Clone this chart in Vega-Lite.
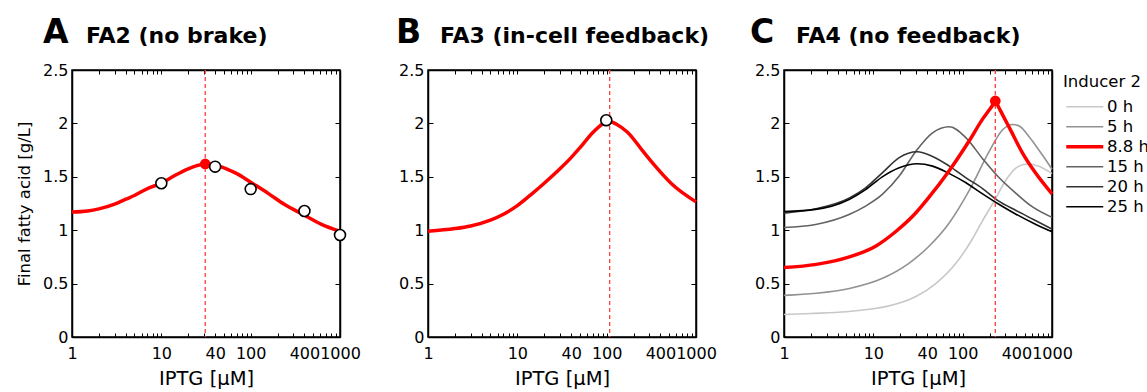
{
  "$schema": "https://vega.github.io/schema/vega-lite/v6.json",
  "background": "white",
  "padding": {"left": 15, "top": 16, "right": 0, "bottom": 0},
  "spacing": 88,
  "bounds": "flush",
  "config": {
    "font": "DejaVu Sans",
    "view": {"stroke": "black", "strokeWidth": 1.5},
    "axis": {"domainColor": "black", "domainWidth": 1.5, "tickColor": "black", "tickWidth": 1, "labelColor": "black", "titleColor": "black", "labelFont": "DejaVu Sans", "titleFont": "DejaVu Sans", "labelFontSize": 16, "titleFontSize": 19.5, "titleFontWeight": "normal", "grid": false, "labelOverlap": false, "labelFlush": false},
    "legend": {"labelFont": "DejaVu Sans", "titleFont": "DejaVu Sans"}
  },
  "datasets": {
    "curveA": [
      {"x": 1, "y": 1.17}, {"x": 1.5, "y": 1.18}, {"x": 2, "y": 1.2}, {"x": 3, "y": 1.245}, {"x": 4, "y": 1.29}, {"x": 5, "y": 1.325}, {"x": 7, "y": 1.39}, {"x": 10, "y": 1.44}, {"x": 14, "y": 1.51}, {"x": 20, "y": 1.575}, {"x": 25, "y": 1.605}, {"x": 31, "y": 1.62}, {"x": 40, "y": 1.61}, {"x": 55, "y": 1.57}, {"x": 70, "y": 1.53}, {"x": 86, "y": 1.485}, {"x": 100, "y": 1.45}, {"x": 157, "y": 1.345}, {"x": 240, "y": 1.24}, {"x": 400, "y": 1.14}, {"x": 620, "y": 1.055}, {"x": 1000, "y": 0.99}
    ],
    "circlesA": [
      {"x": 10, "y": 1.44}, {"x": 40, "y": 1.595}, {"x": 100, "y": 1.385}, {"x": 400, "y": 1.18}, {"x": 1000, "y": 0.955}
    ],
    "peakA": [{"x": 31, "y": 1.62}],
    "curveB": [
      {"x": 1, "y": 0.99}, {"x": 2, "y": 1.015}, {"x": 3, "y": 1.04}, {"x": 5, "y": 1.095}, {"x": 7, "y": 1.15}, {"x": 10, "y": 1.23}, {"x": 15, "y": 1.35}, {"x": 20, "y": 1.44}, {"x": 30, "y": 1.575}, {"x": 40, "y": 1.68}, {"x": 50, "y": 1.77}, {"x": 70, "y": 1.915}, {"x": 90, "y": 1.995}, {"x": 105, "y": 2.02}, {"x": 130, "y": 1.99}, {"x": 170, "y": 1.92}, {"x": 260, "y": 1.73}, {"x": 350, "y": 1.6}, {"x": 540, "y": 1.43}, {"x": 1000, "y": 1.265}
    ],
    "circlesB": [{"x": 99, "y": 2.03}],
    "curvesC": [
      {"series": "0 h", "x": 1, "y": 0.21}, {"series": "0 h", "x": 2, "y": 0.22}, {"series": "0 h", "x": 5, "y": 0.237}, {"series": "0 h", "x": 10, "y": 0.265}, {"series": "0 h", "x": 13, "y": 0.28}, {"series": "0 h", "x": 20, "y": 0.32}, {"series": "0 h", "x": 30, "y": 0.38}, {"series": "0 h", "x": 50, "y": 0.5}, {"series": "0 h", "x": 84, "y": 0.69}, {"series": "0 h", "x": 129, "y": 0.92}, {"series": "0 h", "x": 167, "y": 1.09}, {"series": "0 h", "x": 232, "y": 1.29}, {"series": "0 h", "x": 290, "y": 1.44}, {"series": "0 h", "x": 333, "y": 1.515}, {"series": "0 h", "x": 400, "y": 1.585}, {"series": "0 h", "x": 480, "y": 1.615}, {"series": "0 h", "x": 560, "y": 1.62}, {"series": "0 h", "x": 700, "y": 1.6}, {"series": "0 h", "x": 1000, "y": 1.53},
      {"series": "5 h", "x": 1, "y": 0.39}, {"series": "5 h", "x": 2.3, "y": 0.41}, {"series": "5 h", "x": 5.4, "y": 0.455}, {"series": "5 h", "x": 12.7, "y": 0.55}, {"series": "5 h", "x": 25, "y": 0.69}, {"series": "5 h", "x": 42, "y": 0.85}, {"series": "5 h", "x": 71, "y": 1.07}, {"series": "5 h", "x": 119, "y": 1.375}, {"series": "5 h", "x": 199, "y": 1.74}, {"series": "5 h", "x": 280, "y": 1.94}, {"series": "5 h", "x": 363, "y": 1.99}, {"series": "5 h", "x": 430, "y": 1.975}, {"series": "5 h", "x": 560, "y": 1.87}, {"series": "5 h", "x": 700, "y": 1.76}, {"series": "5 h", "x": 850, "y": 1.66}, {"series": "5 h", "x": 1000, "y": 1.57},
      {"series": "15 h", "x": 1, "y": 1.025}, {"series": "15 h", "x": 2.26, "y": 1.054}, {"series": "15 h", "x": 5.35, "y": 1.148}, {"series": "15 h", "x": 8.2, "y": 1.226}, {"series": "15 h", "x": 12.6, "y": 1.335}, {"series": "15 h", "x": 19.5, "y": 1.507}, {"series": "15 h", "x": 30, "y": 1.74}, {"series": "15 h", "x": 46, "y": 1.912}, {"series": "15 h", "x": 71, "y": 1.968}, {"series": "15 h", "x": 109, "y": 1.865}, {"series": "15 h", "x": 167, "y": 1.67}, {"series": "15 h", "x": 250, "y": 1.5}, {"series": "15 h", "x": 395, "y": 1.345}, {"series": "15 h", "x": 600, "y": 1.22}, {"series": "15 h", "x": 1000, "y": 1.12},
      {"series": "20 h", "x": 1, "y": 1.16}, {"series": "20 h", "x": 2.26, "y": 1.2}, {"series": "20 h", "x": 5.35, "y": 1.3}, {"series": "20 h", "x": 8.2, "y": 1.397}, {"series": "20 h", "x": 12.6, "y": 1.537}, {"series": "20 h", "x": 19.5, "y": 1.68}, {"series": "20 h", "x": 31, "y": 1.734}, {"series": "20 h", "x": 46, "y": 1.69}, {"series": "20 h", "x": 71, "y": 1.6}, {"series": "20 h", "x": 109, "y": 1.49}, {"series": "20 h", "x": 167, "y": 1.39}, {"series": "20 h", "x": 246, "y": 1.28}, {"series": "20 h", "x": 395, "y": 1.185}, {"series": "20 h", "x": 620, "y": 1.1}, {"series": "20 h", "x": 1000, "y": 1.01},
      {"series": "25 h", "x": 1, "y": 1.175}, {"series": "25 h", "x": 2.26, "y": 1.195}, {"series": "25 h", "x": 5.35, "y": 1.288}, {"series": "25 h", "x": 8.2, "y": 1.38}, {"series": "25 h", "x": 12.6, "y": 1.5}, {"series": "25 h", "x": 19.5, "y": 1.585}, {"series": "25 h", "x": 31, "y": 1.622}, {"series": "25 h", "x": 46, "y": 1.6}, {"series": "25 h", "x": 71, "y": 1.53}, {"series": "25 h", "x": 109, "y": 1.444}, {"series": "25 h", "x": 167, "y": 1.34}, {"series": "25 h", "x": 246, "y": 1.25}, {"series": "25 h", "x": 395, "y": 1.15}, {"series": "25 h", "x": 620, "y": 1.065}, {"series": "25 h", "x": 1000, "y": 0.985}
    ],
    "redC": [
      {"series": "8.8 h", "x": 1, "y": 0.65}, {"series": "8.8 h", "x": 2.3, "y": 0.68}, {"series": "8.8 h", "x": 5.4, "y": 0.75}, {"series": "8.8 h", "x": 10.6, "y": 0.85}, {"series": "8.8 h", "x": 18, "y": 0.99}, {"series": "8.8 h", "x": 27.5, "y": 1.13}, {"series": "8.8 h", "x": 42, "y": 1.31}, {"series": "8.8 h", "x": 71, "y": 1.56}, {"series": "8.8 h", "x": 119, "y": 1.84}, {"series": "8.8 h", "x": 167, "y": 2.04}, {"series": "8.8 h", "x": 200, "y": 2.13}, {"series": "8.8 h", "x": 220, "y": 2.18}, {"series": "8.8 h", "x": 232, "y": 2.21}, {"series": "8.8 h", "x": 250, "y": 2.16}, {"series": "8.8 h", "x": 280, "y": 2.08}, {"series": "8.8 h", "x": 333, "y": 1.96}, {"series": "8.8 h", "x": 470, "y": 1.72}, {"series": "8.8 h", "x": 662, "y": 1.53}, {"series": "8.8 h", "x": 1000, "y": 1.34}
    ],
    "peakC": [{"x": 232, "y": 2.21}],
    "vlines": [{"panel": "A", "x": 31}, {"panel": "B", "x": 108}, {"panel": "C", "x": 232}],
    "labels": [{"panel": "A", "letter": "A", "name": "FA2 (no brake)"}, {"panel": "B", "letter": "B", "name": "FA3 (in-cell feedback)"}, {"panel": "C", "letter": "C", "name": "FA4 (no feedback)"}]
  },
  "hconcat": [
    {
      "width": 268, "height": 267,
      "resolve": {"axis": {"x": "independent", "y": "independent"}},
      "layer": [
        {
          "data": {"name": "curveA"},
          "mark": {"type": "line", "color": "#ff0000", "strokeWidth": 3.5, "interpolate": "monotone"},
          "encoding": {
            "x": {"field": "x", "type": "quantitative", "scale": {"type": "log", "domain": [1, 1000], "nice": false}, "axis": {"orient": "bottom", "values": [1,2,3,4,5,6,7,8,9,10,20,30,40,50,60,70,80,90,100,200,300,400,500,600,700,800,900,1000], "labelExpr": "indexof([1,10,40,100,400,1000], datum.value) >= 0 ? format(datum.value, 'd') : ''", "tickSize": -4, "labelPadding": 12, "title": "IPTG [μM]", "titlePadding": 8}},
            "y": {"field": "y", "type": "quantitative", "scale": {"domain": [0, 2.5], "nice": false, "zero": false}, "axis": {"orient": "left", "values": [0, 0.5, 1, 1.5, 2, 2.5], "format": "~g", "tickSize": -5, "labelPadding": 9, "title": "Final fatty acid [g/L]", "titleFontSize": 16.5, "titlePadding": 10}}
          }
        },
        {
          "data": {"name": "vlines"},
          "transform": [{"filter": "datum.panel === 'A'"}],
          "mark": {"type": "rule", "color": "#ff4040", "strokeDash": [4, 3], "strokeWidth": 1.3},
          "encoding": {
            "x": {"field": "x", "type": "quantitative", "scale": {"type": "log", "domain": [1, 1000], "nice": false}, "axis": {"orient": "top", "values": [1,2,3,4,5,6,7,8,9,10,20,30,40,50,60,70,80,90,100,200,300,400,500,600,700,800,900,1000], "labels": false, "tickSize": -4, "title": null}}
          }
        },
        {
          "data": {"name": "peakA"},
          "mark": {"type": "point", "shape": "circle", "filled": true, "color": "#ff0000", "size": 115, "opacity": 1},
          "encoding": {
            "x": {"field": "x", "type": "quantitative", "scale": {"type": "log", "domain": [1, 1000], "nice": false}, "axis": null},
            "y": {"field": "y", "type": "quantitative", "scale": {"domain": [0, 2.5], "nice": false, "zero": false}, "axis": null}
          }
        },
        {
          "data": {"name": "circlesA"},
          "mark": {"type": "point", "shape": "circle", "filled": true, "fill": "white", "stroke": "black", "strokeWidth": 1.6, "size": 120, "opacity": 1},
          "encoding": {
            "x": {"field": "x", "type": "quantitative", "scale": {"type": "log", "domain": [1, 1000], "nice": false}, "axis": null},
            "y": {"field": "y", "type": "quantitative", "scale": {"domain": [0, 2.5], "nice": false, "zero": false}, "axis": {"orient": "right", "values": [0, 0.5, 1, 1.5, 2, 2.5], "labels": false, "tickSize": -5, "title": null}}
          }
        },
        {
          "data": {"name": "labels"},
          "transform": [{"filter": "datum.panel === 'A'"}],
          "mark": {"type": "text", "font": "DejaVu Sans", "fontSize": 33, "fontWeight": "bold", "align": "left", "baseline": "alphabetic", "dx": -29, "dy": -27, "color": "black"},
          "encoding": {
            "x": {"datum": 1, "type": "quantitative", "scale": {"type": "log", "domain": [1, 1000], "nice": false}, "axis": null},
            "y": {"datum": 2.5, "type": "quantitative", "scale": {"domain": [0, 2.5], "nice": false, "zero": false}, "axis": null},
            "text": {"field": "letter"}
          }
        },
        {
          "data": {"name": "labels"},
          "transform": [{"filter": "datum.panel === 'A'"}],
          "mark": {"type": "text", "font": "DejaVu Sans", "fontSize": 22, "fontWeight": "bold", "align": "left", "baseline": "alphabetic", "dx": 14, "dy": -27, "color": "black"},
          "encoding": {
            "x": {"datum": 1, "type": "quantitative", "scale": {"type": "log", "domain": [1, 1000], "nice": false}, "axis": null},
            "y": {"datum": 2.5, "type": "quantitative", "scale": {"domain": [0, 2.5], "nice": false, "zero": false}, "axis": null},
            "text": {"field": "name"}
          }
        }
      ]
    },
    {
      "width": 268, "height": 267,
      "resolve": {"axis": {"x": "independent", "y": "independent"}},
      "layer": [
        {
          "data": {"name": "curveB"},
          "mark": {"type": "line", "color": "#ff0000", "strokeWidth": 3.5, "interpolate": "monotone"},
          "encoding": {
            "x": {"field": "x", "type": "quantitative", "scale": {"type": "log", "domain": [1, 1000], "nice": false}, "axis": {"orient": "bottom", "values": [1,2,3,4,5,6,7,8,9,10,20,30,40,50,60,70,80,90,100,200,300,400,500,600,700,800,900,1000], "labelExpr": "indexof([1,10,40,100,400,1000], datum.value) >= 0 ? format(datum.value, 'd') : ''", "tickSize": -4, "labelPadding": 12, "title": "IPTG [μM]", "titlePadding": 8}},
            "y": {"field": "y", "type": "quantitative", "scale": {"domain": [0, 2.5], "nice": false, "zero": false}, "axis": {"orient": "left", "values": [0, 0.5, 1, 1.5, 2, 2.5], "format": "~g", "tickSize": -5, "labelPadding": 9, "title": null}}
          }
        },
        {
          "data": {"name": "vlines"},
          "transform": [{"filter": "datum.panel === 'B'"}],
          "mark": {"type": "rule", "color": "#ff4040", "strokeDash": [4, 3], "strokeWidth": 1.3},
          "encoding": {
            "x": {"field": "x", "type": "quantitative", "scale": {"type": "log", "domain": [1, 1000], "nice": false}, "axis": {"orient": "top", "values": [1,2,3,4,5,6,7,8,9,10,20,30,40,50,60,70,80,90,100,200,300,400,500,600,700,800,900,1000], "labels": false, "tickSize": -4, "title": null}}
          }
        },
        {
          "data": {"name": "circlesB"},
          "mark": {"type": "point", "shape": "circle", "filled": true, "fill": "white", "stroke": "black", "strokeWidth": 1.6, "size": 120, "opacity": 1},
          "encoding": {
            "x": {"field": "x", "type": "quantitative", "scale": {"type": "log", "domain": [1, 1000], "nice": false}, "axis": null},
            "y": {"field": "y", "type": "quantitative", "scale": {"domain": [0, 2.5], "nice": false, "zero": false}, "axis": {"orient": "right", "values": [0, 0.5, 1, 1.5, 2, 2.5], "labels": false, "tickSize": -5, "title": null}}
          }
        },
        {
          "data": {"name": "labels"},
          "transform": [{"filter": "datum.panel === 'B'"}],
          "mark": {"type": "text", "font": "DejaVu Sans", "fontSize": 33, "fontWeight": "bold", "align": "left", "baseline": "alphabetic", "dx": -32, "dy": -27, "color": "black"},
          "encoding": {
            "x": {"datum": 1, "type": "quantitative", "scale": {"type": "log", "domain": [1, 1000], "nice": false}, "axis": null},
            "y": {"datum": 2.5, "type": "quantitative", "scale": {"domain": [0, 2.5], "nice": false, "zero": false}, "axis": null},
            "text": {"field": "letter"}
          }
        },
        {
          "data": {"name": "labels"},
          "transform": [{"filter": "datum.panel === 'B'"}],
          "mark": {"type": "text", "font": "DejaVu Sans", "fontSize": 22, "fontWeight": "bold", "align": "left", "baseline": "alphabetic", "dx": 12, "dy": -27, "color": "black"},
          "encoding": {
            "x": {"datum": 1, "type": "quantitative", "scale": {"type": "log", "domain": [1, 1000], "nice": false}, "axis": null},
            "y": {"datum": 2.5, "type": "quantitative", "scale": {"domain": [0, 2.5], "nice": false, "zero": false}, "axis": null},
            "text": {"field": "name"}
          }
        }
      ]
    },
    {
      "width": 268, "height": 267,
      "resolve": {"axis": {"x": "independent", "y": "independent"}},
      "layer": [
        {
          "data": {"name": "curvesC"},
          "mark": {"type": "line", "interpolate": "monotone", "strokeWidth": 1.6},
          "encoding": {
            "x": {"field": "x", "type": "quantitative", "scale": {"type": "log", "domain": [1, 1000], "nice": false}, "axis": {"orient": "bottom", "values": [1,2,3,4,5,6,7,8,9,10,20,30,40,50,60,70,80,90,100,200,300,400,500,600,700,800,900,1000], "labelExpr": "indexof([1,10,40,100,400,1000], datum.value) >= 0 ? format(datum.value, 'd') : ''", "tickSize": -4, "labelPadding": 12, "title": "IPTG [μM]", "titlePadding": 8}},
            "y": {"field": "y", "type": "quantitative", "scale": {"domain": [0, 2.5], "nice": false, "zero": false}, "axis": {"orient": "left", "values": [0, 0.5, 1, 1.5, 2, 2.5], "format": "~g", "tickSize": -5, "labelPadding": 9, "title": null}},
            "color": {"field": "series", "type": "nominal", "scale": {"domain": ["0 h", "5 h", "8.8 h", "15 h", "20 h", "25 h"], "range": ["#c8c8c8", "#929292", "#ff0000", "#626262", "#333333", "#000000"]}, "legend": {"title": "Inducer 2", "orient": "right", "offset": -15, "padding": 4, "titleFontSize": 16.5, "titleFontWeight": "normal", "titleColor": "black", "labelFontSize": 16.5, "labelColor": "black", "symbolType": "M-3.7,0H3.7", "symbolSize": 100, "symbolOffset": 13.5, "labelOffset": 14, "titlePadding": 8, "rowPadding": 3, "encode": {"symbols": {"update": {"strokeWidth": {"signal": "datum.value === '8.8 h' ? 3.5 : 1.6"}, "fill": {"value": "transparent"}}}}}}
          }
        },
        {
          "data": {"name": "redC"},
          "mark": {"type": "line", "interpolate": "monotone", "strokeWidth": 3.5},
          "encoding": {
            "x": {"field": "x", "type": "quantitative", "scale": {"type": "log", "domain": [1, 1000], "nice": false}, "axis": null},
            "y": {"field": "y", "type": "quantitative", "scale": {"domain": [0, 2.5], "nice": false, "zero": false}, "axis": null},
            "color": {"field": "series", "type": "nominal", "scale": {"domain": ["0 h", "5 h", "8.8 h", "15 h", "20 h", "25 h"], "range": ["#c8c8c8", "#929292", "#ff0000", "#626262", "#333333", "#000000"]}, "legend": {"title": "Inducer 2", "orient": "right", "offset": -15, "padding": 4, "titleFontSize": 16.5, "titleFontWeight": "normal", "titleColor": "black", "labelFontSize": 16.5, "labelColor": "black", "symbolType": "M-3.7,0H3.7", "symbolSize": 100, "symbolOffset": 13.5, "labelOffset": 14, "titlePadding": 8, "rowPadding": 3, "encode": {"symbols": {"update": {"strokeWidth": {"signal": "datum.value === '8.8 h' ? 3.5 : 1.6"}, "fill": {"value": "transparent"}}}}}}
          }
        },
        {
          "data": {"name": "vlines"},
          "transform": [{"filter": "datum.panel === 'C'"}],
          "mark": {"type": "rule", "color": "#ff4040", "strokeDash": [4, 3], "strokeWidth": 1.3},
          "encoding": {
            "x": {"field": "x", "type": "quantitative", "scale": {"type": "log", "domain": [1, 1000], "nice": false}, "axis": {"orient": "top", "values": [1,2,3,4,5,6,7,8,9,10,20,30,40,50,60,70,80,90,100,200,300,400,500,600,700,800,900,1000], "labels": false, "tickSize": -4, "title": null}}
          }
        },
        {
          "data": {"name": "peakC"},
          "mark": {"type": "point", "shape": "circle", "filled": true, "color": "#ff0000", "size": 115, "opacity": 1},
          "encoding": {
            "x": {"field": "x", "type": "quantitative", "scale": {"type": "log", "domain": [1, 1000], "nice": false}, "axis": null},
            "y": {"field": "y", "type": "quantitative", "scale": {"domain": [0, 2.5], "nice": false, "zero": false}, "axis": {"orient": "right", "values": [0, 0.5, 1, 1.5, 2, 2.5], "labels": false, "tickSize": -5, "title": null}}
          }
        },
        {
          "data": {"name": "labels"},
          "transform": [{"filter": "datum.panel === 'C'"}],
          "mark": {"type": "text", "font": "DejaVu Sans", "fontSize": 33, "fontWeight": "bold", "align": "left", "baseline": "alphabetic", "dx": -34, "dy": -27, "color": "black"},
          "encoding": {
            "x": {"datum": 1, "type": "quantitative", "scale": {"type": "log", "domain": [1, 1000], "nice": false}, "axis": null},
            "y": {"datum": 2.5, "type": "quantitative", "scale": {"domain": [0, 2.5], "nice": false, "zero": false}, "axis": null},
            "text": {"field": "letter"}
          }
        },
        {
          "data": {"name": "labels"},
          "transform": [{"filter": "datum.panel === 'C'"}],
          "mark": {"type": "text", "font": "DejaVu Sans", "fontSize": 22, "fontWeight": "bold", "align": "left", "baseline": "alphabetic", "dx": 12, "dy": -27, "color": "black"},
          "encoding": {
            "x": {"datum": 1, "type": "quantitative", "scale": {"type": "log", "domain": [1, 1000], "nice": false}, "axis": null},
            "y": {"datum": 2.5, "type": "quantitative", "scale": {"domain": [0, 2.5], "nice": false, "zero": false}, "axis": null},
            "text": {"field": "name"}
          }
        }
      ]
    }
  ]
}
